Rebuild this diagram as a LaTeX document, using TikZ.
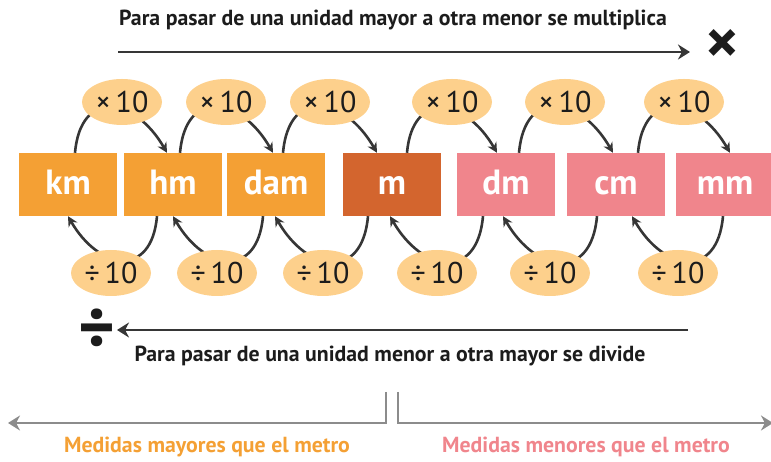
\documentclass[tikz,border=0pt]{standalone}
\usepackage{fontspec}
\setmainfont{PT Sans}
\usetikzlibrary{arrows.meta,shapes.geometric}
\definecolor{naranja}{HTML}{F4A034}
\definecolor{ladrillo}{HTML}{D3652E}
\definecolor{rosa}{HTML}{F0858C}
\definecolor{crema}{HTML}{FDD08C}
\definecolor{oscuro}{HTML}{363636}
\definecolor{tinta}{HTML}{1C1C1C}
\definecolor{gris}{HTML}{8C8C8C}
\tikzset{>={Stealth[length=10pt,width=10pt]}}
\tikzstyle{unidad} = [minimum width=98pt, minimum height=63pt, inner sep=0pt, text height=21pt, text depth=0pt, text=white, font=\fontsize{35}{35}\selectfont\bfseries]
\tikzstyle{factor} = [ellipse, fill=crema, minimum width=80pt, minimum height=46pt, inner sep=0pt, text=tinta, font=\fontsize{30}{30}\selectfont]
\tikzstyle{flecha} = [line width=2.6pt, draw=oscuro, ->]
\tikzstyle{linea} = [line width=2.8pt, draw=oscuro, -{Stealth[length=12pt,width=15pt]}]
\tikzstyle{cota} = [line width=2.8pt, draw=gris, -{Stealth[length=12pt,width=15pt]}]
\tikzstyle{frase} = [inner sep=0pt, text=tinta, font=\fontsize{21.8}{22}\selectfont\bfseries]

\begin{document}
\begin{tikzpicture}[x=1pt,y=1pt]
\useasboundingbox (0,0) rectangle (771,462);

\def \yc {277.5} % centre of the unit boxes

% unit boxes
\node[unidad, fill=naranja]  (km)  at (68,\yc)  {km};
\node[unidad, fill=naranja]  (hm)  at (173,\yc) {hm};
\node[unidad, fill=naranja]  (dam) at (276,\yc) {dam};
\node[unidad, fill=ladrillo] (m)   at (392,\yc) {m};
\node[unidad, fill=rosa]     (dm)  at (506,\yc) {dm};
\node[unidad, fill=rosa]     (cm)  at (616,\yc) {cm};
\node[unidad, fill=rosa]     (mm)  at (725,\yc) {mm};

% multiply: towards the smaller unit
\foreach \a/\b/\s/\e/\c in {km/hm/7/-6/122, hm/dam/7/-3/226, dam/m/7/-15/330,
                            m/dm/15/-9/452, dm/cm/13/-3/565, cm/mm/22/5/684}{
  \draw[flecha] ([xshift=\s]\a.north) to[out=85,in=120,looseness=1.8] ([xshift=\e]\b.north);
  \node[factor] (por\a) at (\c,360) {×\,10};
}

% divide: towards the bigger unit
\foreach \a/\b/\s/\e/\c in {km/hm/-16/0/111, hm/dam/-13/0/217, dam/m/-24/-1/323,
                            m/dm/-23/-2/437, dm/cm/-19/-3/550, cm/mm/-2/16/678}{
  \draw[flecha] ([xshift=\s]\b.south) to[out=-95,in=-60,looseness=1.8] ([xshift=\e]\a.south);
  \node[factor] (entre\a) at (\c,189) {÷\,10};
}

% top rule
\node[frase] (multiplica) at (393,442) {Para pasar de una unidad mayor a otra menor se multiplica};
\coordinate (ini) at (118,410);
\coordinate (fin) at (690,410);
\draw[linea] (ini) -- (fin);
\node[text=tinta, font=\fontsize{64}{64}\selectfont\bfseries] (signopor) at (722,415) {×};

% bottom rule
\coordinate (ini2) at (688,132);
\coordinate (fin2) at (117,132);
\draw[linea] (ini2) -- (fin2);
\node[text=tinta, font=\fontsize{70}{70}\selectfont\bfseries] (signoentre) at (97,132) {÷};
\node[frase] (divide) at (390,106) {Para pasar de una unidad menor a otra mayor se divide};

% brackets
\coordinate (mayores) at (386,70);
\coordinate (menores) at (398,70);
\draw[cota] (mayores) |- (8,39);
\draw[cota] (menores) |- (773,39);
\node[frase, text=naranja] (txtmay) at (207,15) {Medidas mayores que el metro};
\node[frase, text=rosa] (txtmen) at (586,15) {Medidas menores que el metro};

\end{tikzpicture}
\end{document}
